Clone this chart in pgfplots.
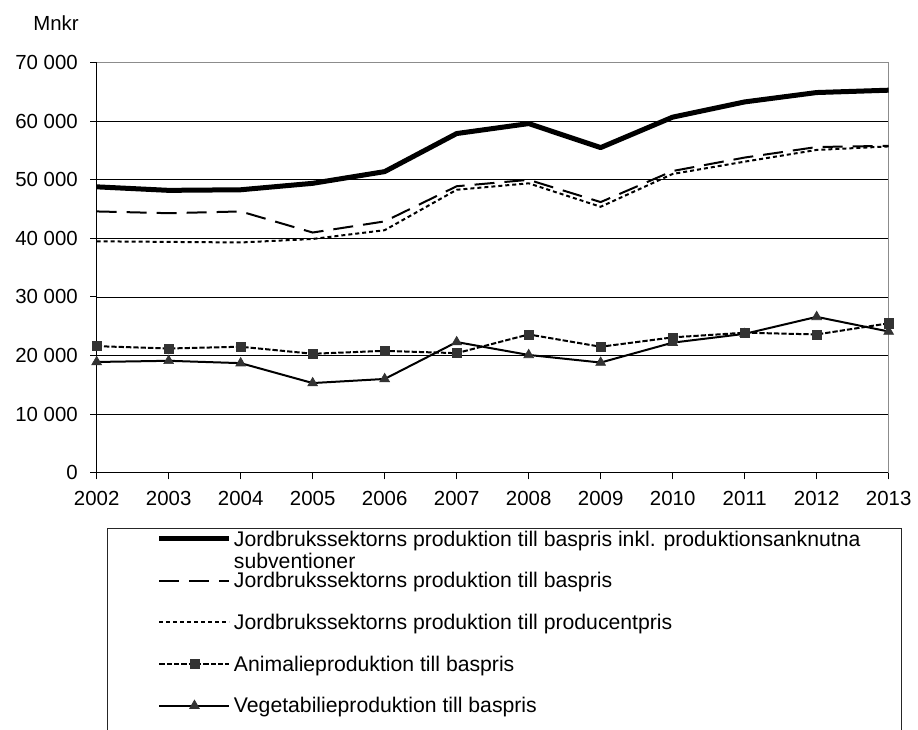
\documentclass[border=0pt]{standalone}
\usepackage{fontspec}
\setmainfont{Liberation Sans}
\usepackage{pgfplots}
\pgfplotsset{compat=1.18}
\definecolor{markgray}{HTML}{333333}
\definecolor{framegray}{HTML}{8C8C8C}
\begin{document}
\fontsize{15.3}{17.6}\selectfont
\begin{tikzpicture}
\begin{axis}[
  scale only axis, width=594pt, height=307.5pt,
  xmin=2002, xmax=2013, ymin=0, ymax=70000,
  axis x line*=bottom, axis y line*=left,
  axis line style={black, line width=0.9pt},
  tick pos=left, tick align=outside, major tick length=5pt,
  tick style={black, line width=0.75pt},
  scaled y ticks=false,
  xtick={2002,2003,2004,2005,2006,2007,2008,2009,2010,2011,2012,2013},
  xticklabels={2002,2003,2004,2005,2006,2007,2008,2009,2010,2011,2012,2013},
  ytick={0,10000,20000,30000,40000,50000,60000,70000},
  yticklabels={0,10 000,20 000,30 000,40 000,50 000,60 000,70 000},
  ymajorgrids, grid style={black, line width=0.6pt},
  clip=false,
  xticklabel style={inner sep=0pt, anchor=north, yshift=-9pt},
  yticklabel style={inner sep=0pt, anchor=east, xshift=-9pt},
  legend cell align=left,
  legend style={draw=none, fill=none, at={(0.0758,-0.1431)}, anchor=north west,
    inner sep=0pt, row sep=20.5pt, font=\fontsize{15.9}{17}\selectfont,
    nodes={inner sep=0pt, text height=10.8pt, text depth=0pt},
    /tikz/every odd column/.append style={column sep=1.5pt}},
  legend image code/.code={\draw[mark repeat=2,mark phase=2,#1] plot coordinates {(0pt,0pt) (26.25pt,0pt) (52.5pt,0pt)};},
]
\draw[framegray, line width=1.2pt] (rel axis cs:0,1) -- (rel axis cs:1,1) -- (rel axis cs:1,0);
\addplot[black, line width=3.75pt, line join=round] coordinates {
 (2002,48800) (2003,48200) (2004,48300) (2005,49400) (2006,51400) (2007,57900)
 (2008,59600) (2009,55500) (2010,60700) (2011,63300) (2012,64900) (2013,65300)};
\addlegendentry{\smash{\parbox[t]{580pt}{Jordbrukssektorns produktion till baspris inkl. produktionsanknutna\\subventioner}}}
\addplot[black, line width=1.5pt, dash pattern=on 15pt off 7.5pt] coordinates {
 (2002,44600) (2003,44300) (2004,44600) (2005,41000) (2006,42900) (2007,48900)
 (2008,50000) (2009,46200) (2010,51500) (2011,53800) (2012,55600) (2013,55800)};
\addlegendentry{Jordbrukssektorns produktion till baspris}
\addplot[black, line width=1.5pt, dash pattern=on 3pt off 2.25pt] coordinates {
 (2002,39500) (2003,39400) (2004,39300) (2005,39900) (2006,41400) (2007,48300)
 (2008,49400) (2009,45400) (2010,51000) (2011,53100) (2012,55100) (2013,55700)};
\addlegendentry{Jordbrukssektorns produktion till producentpris}
\addplot[black, line width=1.5pt, dash pattern=on 4pt off 1.5pt, mark=square*, mark size=3.4pt,
  mark options={solid, fill=markgray, draw=markgray, line width=0.5pt}] coordinates {
 (2002,21600) (2003,21200) (2004,21500) (2005,20300) (2006,20800) (2007,20400)
 (2008,23600) (2009,21500) (2010,23100) (2011,23900) (2012,23600) (2013,25500)};
\addlegendentry{Animalieproduktion till baspris}
\addplot[black, line width=1.5pt, mark=triangle*, mark size=4.2pt,
  mark options={solid, fill=markgray, draw=markgray, line width=0.5pt}] coordinates {
 (2002,18900) (2003,19100) (2004,18700) (2005,15300) (2006,16000) (2007,22300)
 (2008,20100) (2009,18800) (2010,22200) (2011,23700) (2012,26600) (2013,24100)};
\addlegendentry{Vegetabilieproduktion till baspris}
\end{axis}
\draw[black!85, line width=0.75pt] (7.8pt,-193pt) -- (7.8pt,-41.7pt) -- (603.8pt,-41.7pt) -- (603.8pt,-193pt);
\node[anchor=base east, inner sep=0pt] at (-13.25pt,331.5pt) {Mnkr};
\pgfresetboundingbox
\path[use as bounding box] (-72.5pt,-192.25pt) rectangle (616pt,354.5pt);
\end{tikzpicture}
\end{document}
